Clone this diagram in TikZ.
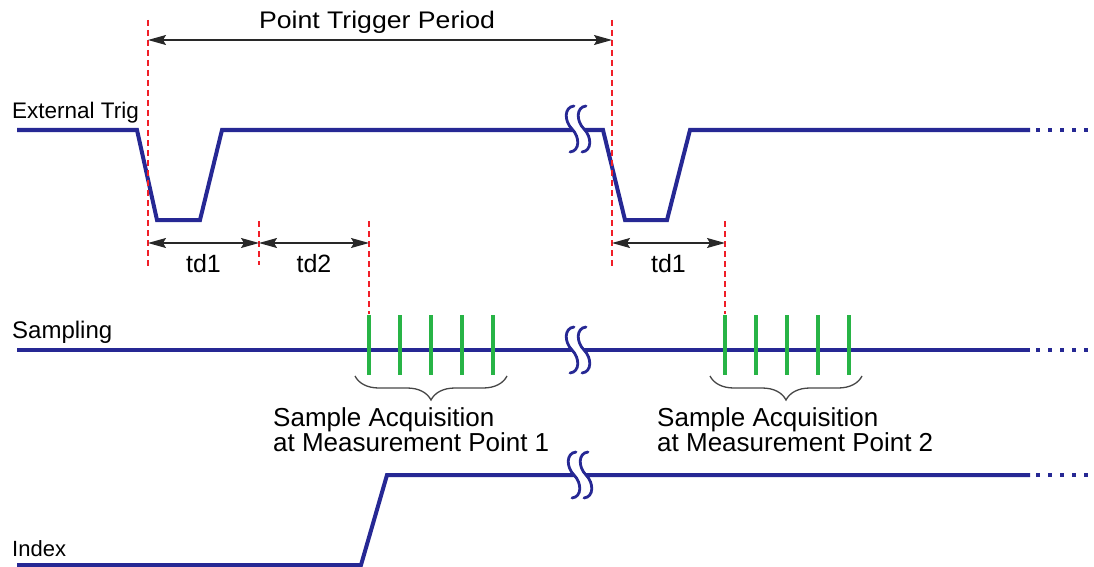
\documentclass[tikz,border=0pt]{standalone}
\usepackage{fontspec}
\setmainfont{Liberation Sans}
\newfontfamily\widefont{Liberation Sans}[FakeStretch=1.11]
\usetikzlibrary{arrows.meta,decorations.pathreplacing}
\definecolor{sigblue}{RGB}{38,40,148}
\definecolor{tickgreen}{RGB}{40,180,70}
\definecolor{markred}{RGB}{240,30,40}
\definecolor{dimgray}{RGB}{40,40,40}
\definecolor{bracegray}{RGB}{70,70,70}
\tikzset{
  signal/.style={draw=sigblue,line width=4pt,line join=miter},
  sigdots/.style={draw=sigblue,line width=4pt,dash pattern=on 4pt off 8pt},
  marker/.style={draw=markred,line width=2.8pt,dash pattern=on 6pt off 4pt},
  tick/.style={draw=tickgreen,line width=3.8pt},
  dimarrow/.style={draw=dimgray,line width=1.3pt,{Stealth[length=18pt,width=10pt,inset=3pt]}-{Stealth[length=18pt,width=10pt,inset=3pt]}},
  bracestyle/.style={draw=bracegray,line width=1.3pt,decorate,decoration={brace,mirror,amplitude=24pt}},
  lbl/.style={inner sep=0pt,text=black},
  pics/brk/.style={code={
    \fill[white] (2,-23) .. controls (-8,-22) and (-8,-8) .. (0,0) .. controls (8,8) and (8,22) .. (-2,23)
      -- (10,23) .. controls (20,22) and (20,8) .. (12,0) .. controls (4,-8) and (4,-22) .. (14,-23) -- cycle;
    \draw[sigblue,line width=2.8pt,line cap=round] (2,-23) .. controls (-8,-22) and (-8,-8) .. (0,0) .. controls (8,8) and (8,22) .. (-2,23);
    \draw[sigblue,line width=2.8pt,line cap=round] (14,-23) .. controls (4,-22) and (4,-8) .. (12,0) .. controls (20,8) and (20,22) .. (10,23);
  }}
}
\begin{document}
\begin{tikzpicture}[x=1pt,y=-1pt]
\useasboundingbox (0,0) rectangle (1094,567);

% ---- coordinates for markers
\coordinate (m1t) at (148,20);  \coordinate (m1b) at (148,268);
\coordinate (m2t) at (259,221); \coordinate (m2b) at (259,265);
\coordinate (m3t) at (369,221); \coordinate (m3b) at (369,314);
\coordinate (m4t) at (612,20);  \coordinate (m4b) at (612,268);
\coordinate (m5t) at (725,221); \coordinate (m5b) at (725,314);

% ---- signals
\draw[signal] (17,130) -- (137,130) -- (157,220) -- (200,220) -- (222,130) -- (603,130)
  -- (625,220) -- (667,220) -- (690,130) -- (1030,130);
\draw[sigdots] (1036,130) -- (1094,130);
\draw[signal] (17,350) -- (1030,350);
\draw[sigdots] (1036,350) -- (1094,350);
\draw[signal] (17,565) -- (361,565) -- (387,475) -- (1030,475);
\draw[sigdots] (1036,475) -- (1094,475);

% ---- breaks
\pic at (572,129) {brk};
\pic at (572,350) {brk};
\pic at (574,475) {brk};

% ---- red markers
\draw[marker] (m1t) -- (m1b);
\draw[marker] (m2t) -- (m2b);
\draw[marker] (m3t) -- (m3b);
\draw[marker] (m4t) -- (m4b);
\draw[marker] (m5t) -- (m5b);

% ---- green sample ticks
\foreach \i in {0,...,4} {
  \draw[tick] (369+31*\i,315) -- (369+31*\i,375);
  \draw[tick] (725+31*\i,315) -- (725+31*\i,375);
}

% ---- dimension arrows
\coordinate (pL) at (148,40); \coordinate (pR) at (612,40);
\coordinate (a1L) at (148,243); \coordinate (a1R) at (259,243);
\coordinate (a2L) at (259,243); \coordinate (a2R) at (369,243);
\coordinate (a3L) at (612,243); \coordinate (a3R) at (725,243);
\draw[dimarrow] (pL) -- (pR);
\draw[dimarrow] (a1L) -- (a1R);
\draw[dimarrow] (a2L) -- (a2R);
\draw[dimarrow] (a3L) -- (a3R);

% ---- braces
\draw[bracestyle] (355,376) -- (507,376);
\draw[bracestyle] (710,376) -- (862,376);

% ---- labels
\node[lbl,anchor=base] (ptp) at (377,29) {\widefont\fontsize{24}{24}\selectfont Point Trigger Period};
\node[lbl,anchor=base west] (ext) at (12,119) {\fontsize{22.5}{22.5}\selectfont External Trig};
\node[lbl,anchor=base west] (smp) at (12,338) {\fontsize{24}{24}\selectfont Sampling};
\node[lbl,anchor=base west] (idx) at (12,556) {\fontsize{22}{22}\selectfont Index};
\node[lbl,anchor=base] (td1a) at (203.5,272) {\fontsize{25}{25}\selectfont td1};
\node[lbl,anchor=base] (td2) at (314,272) {\fontsize{25}{25}\selectfont td2};
\node[lbl,anchor=base] (td1b) at (668.5,272) {\fontsize{25}{25}\selectfont td1};
\node[lbl,anchor=base west] (sa1a) at (273,426) {\fontsize{26}{26}\selectfont Sample Acquisition};
\node[lbl,anchor=base west] (sa1b) at (273,451) {\fontsize{26}{26}\selectfont at Measurement Point 1};
\node[lbl,anchor=base west] (sa2a) at (657,426) {\fontsize{26}{26}\selectfont Sample Acquisition};
\node[lbl,anchor=base west] (sa2b) at (657,451) {\fontsize{26}{26}\selectfont at Measurement Point 2};
\end{tikzpicture}
\end{document}
